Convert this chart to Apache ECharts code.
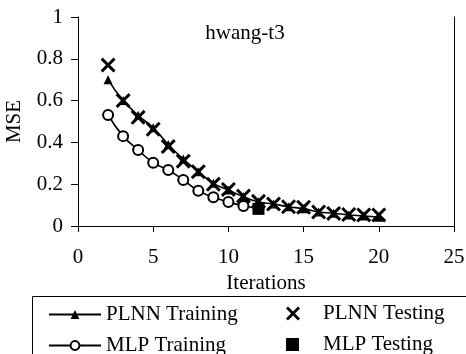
<!DOCTYPE html>
<html>
<head>
<meta charset="utf-8">
<script src="https://cdn.jsdelivr.net/npm/echarts@6/dist/echarts.min.js"></script>
<style>
  html, body { margin: 0; padding: 0; background: #fff; }
  #chart { width: 466px; height: 354px; }
</style>
</head>
<body>
<div id="chart"></div>
<script>
const xTicks = [0, 5, 10, 15, 20, 25]
const yTicks = [0, 0.2, 0.4, 0.6, 0.8, 1]

const plnnTrainX = [2, 3, 4, 5, 6, 7, 8, 9, 10, 11, 12, 13, 14, 15, 16, 17, 18, 19, 20]
const plnnTrainY = [0.70, 0.60, 0.53, 0.47, 0.39, 0.32, 0.26, 0.204, 0.172, 0.14, 0.116, 0.105, 0.092, 0.083, 0.067, 0.061, 0.053, 0.048, 0.042]

const plnnTestX = [2, 3, 4, 5, 6, 7, 8, 9, 10, 11, 12, 13, 14, 15, 16, 17, 18, 19, 20]
const plnnTestY = [0.77, 0.60, 0.52, 0.463, 0.38, 0.31, 0.26, 0.20, 0.175, 0.143, 0.118, 0.105, 0.092, 0.09, 0.067, 0.06, 0.055, 0.053, 0.053]

const mlpTrainX = [2, 3, 4, 5, 6, 7, 8, 9, 10, 11, 12]
const mlpTrainY = [0.531, 0.43, 0.364, 0.303, 0.268, 0.22, 0.169, 0.137, 0.115, 0.096, 0.085]

const mlpTestX = [12]
const mlpTestY = [0.082]

const pairs = (xs, ys) => xs.map((x, i) => [x, ys[i]])

// filled X shape
const crossPath = 'path://M0,1.4L1.4,0L5,3.6L8.6,0L10,1.4L6.4,5L10,8.6L8.6,10L5,6.4L1.4,10L0,8.6L3.6,5Z'

const font = 'Liberation Serif'
const fs = 21
const legendText = { fontFamily: font, fontSize: fs, color: '#000' }

function legendItem(name, left, top, w, h, padLeft) {
  return {
    data: [name],
    left: left,
    top: top,
    padding: 0,
    itemWidth: w,
    itemHeight: h,
    textStyle: Object.assign({}, legendText, { padding: [0, 0, 0, padLeft] })
  }
}

const chart = echarts.init(document.getElementById('chart'))
chart.setOption({
  animation: false,
  textStyle: { fontFamily: font, color: '#000' },
  title: {
    text: 'hwang-t3',
    left: 240,
    top: 18,
    textAlign: 'center',
    textStyle: { fontFamily: font, fontSize: fs, fontWeight: 'normal', color: '#000' }
  },
  grid: { left: 78, top: 17, right: 12, bottom: 128, outerBoundsMode: 'none', containLabel: false },
  xAxis: {
    type: 'value',
    min: 0,
    max: 25,
    interval: 5,
    name: 'Iterations',
    nameLocation: 'middle',
    nameGap: 44,
    nameTextStyle: { fontFamily: font, fontSize: fs, color: '#000' },
    axisLine: { show: true, lineStyle: { color: '#000', width: 1 } },
    axisTick: { show: true, length: 6, lineStyle: { color: '#000' } },
    axisLabel: { fontFamily: font, fontSize: fs, color: '#000', margin: 21 },
    splitLine: { show: false }
  },
  yAxis: [
    {
      type: 'value',
      min: 0,
      max: 1,
      interval: 0.2,
      name: 'MSE',
      nameLocation: 'middle',
      nameGap: 53,
      nameTextStyle: { fontFamily: font, fontSize: fs, color: '#000' },
      axisLine: { show: true, lineStyle: { color: '#000', width: 1 } },
      axisTick: { show: true, length: 7, lineStyle: { color: '#000' } },
      axisLabel: {
        fontFamily: font, fontSize: fs, color: '#000', margin: 15,
        formatter: v => yTicks.includes(+v.toFixed(1)) ? String(+v.toFixed(1)) : ''
      },
      splitLine: { show: false }
    },
    {
      type: 'value',
      min: 0,
      max: 1,
      position: 'right',
      axisLine: { show: true, lineStyle: { color: '#000', width: 1 } },
      axisTick: { show: false },
      axisLabel: { show: false },
      splitLine: { show: false }
    }
  ],
  legend: [
    legendItem('PLNN Training', 48, 304, 52, 11, 0),
    legendItem('MLP Training', 48, 335, 52, 11, 0),
    legendItem('PLNN Testing', 286, 303, 14, 14, 18),
    legendItem('MLP Testing', 286, 334, 13, 13, 19)
  ],
  graphic: [
    {
      type: 'rect',
      shape: { x: 32.5, y: 296.5, width: 460, height: 80 },
      style: { fill: 'none', stroke: '#000', lineWidth: 1 },
      silent: true
    }
  ],
  series: [
    {
      name: 'PLNN Training',
      type: 'line',
      smooth: true,
      data: pairs(plnnTrainX, plnnTrainY),
      symbol: 'triangle',
      symbolSize: 9,
      lineStyle: { color: '#000', width: 1.6 },
      itemStyle: { color: '#000' }
    },
    {
      name: 'MLP Training',
      type: 'line',
      smooth: true,
      data: pairs(mlpTrainX, mlpTrainY),
      symbol: 'emptyCircle',
      symbolSize: 10,
      lineStyle: { color: '#000', width: 1.6 },
      itemStyle: { color: '#000', borderColor: '#000', borderWidth: 1.8 }
    },
    {
      name: 'PLNN Testing',
      type: 'scatter',
      data: pairs(plnnTestX, plnnTestY),
      symbol: crossPath,
      symbolSize: 15,
      itemStyle: { color: '#000', opacity: 1 },
      z: 3
    },
    {
      name: 'MLP Testing',
      type: 'scatter',
      data: pairs(mlpTestX, mlpTestY),
      symbol: 'rect',
      symbolSize: 12,
      itemStyle: { color: '#000', opacity: 1 },
      z: 4
    }
  ]
})
</script>
</body>
</html>
